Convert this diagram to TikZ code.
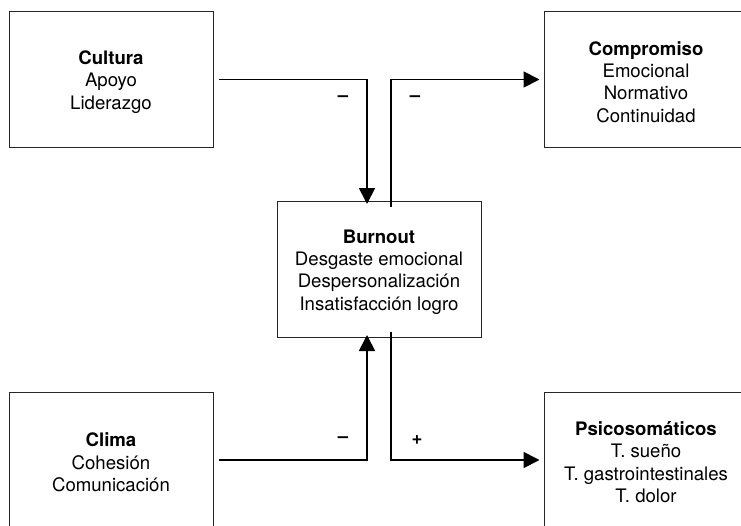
\documentclass[tikz,border=0pt]{standalone}
\usepackage{fontspec}
\setmainfont{TeX Gyre Heros}
\usetikzlibrary{arrows.meta}

\def\boxw{204pt}
\def\boxh{136pt}
% bold first line, a bit taller so the text sits lower in the box
\newcommand{\titulo}[1]{\rule{0pt}{18.5pt}\textbf{#1}}

\begin{document}
\begin{tikzpicture}[x=1pt,y=-1pt,
% Here are defined the boxes, connectors and signs
caja/.style={
rectangle, draw=black!85, line width=1pt, inner sep=0,
align=center, font=\fontsize{18.6}{22.3}\selectfont,
minimum width=\boxw, minimum height=\boxh },
conn/.style={
line width=1.8pt, -{Triangle[width=16pt,length=16pt]} },
signo/.style={
font=\fontsize{18.6}{22.3}\selectfont\bfseries },
]
\clip (0,0) rectangle (741,525);

%%%%%%%%%%%%%%%%%%%%%%%%
%%% THE BOXES
%%%%%%%%%%%%%%%%%%%%%%%%
\node[caja] (cult) at (111,79.5) {\titulo{Cultura}\\Apoyo\\Liderazgo};
\node[caja] (comp) at (646,79.5) {\titulo{Compromiso}\\Emocional\\Normativo\\Continuidad};
\node[caja] (burn) at (379,269.5) {\titulo{Burnout}\\Desgaste emocional\\Despersonalización\\Insatisfacción logro};
\node[caja] (clim) at (111,460) {\titulo{Clima}\\Cohesión\\Comunicación};
\node[caja] (psic) at (646,460) {\titulo{Psicosomáticos}\\T. sueño\\T. gastrointestinales\\T. dolor};

%%% The 4 connectors
\draw[conn] ([xshift=5pt]cult.east) -| ([xshift=-12pt,yshift=-3pt]burn.north);
\draw[conn] ([xshift=12pt,yshift=-6pt]burn.north) |- ([xshift=-4pt]comp.west);
\draw[conn] ([xshift=5pt]clim.east) -| ([xshift=-12pt,yshift=3pt]burn.south);
\draw[conn] ([xshift=12pt,yshift=6pt]burn.south) |- ([xshift=-4pt]psic.west);

%%% The signs
\node[signo] (s1) at (343,99) {--};
\node[signo] (s2) at (415,99) {--};
\node[signo] (s3) at (343,440) {--};
\node[signo] (s4) at (417,440) {+};

\end{tikzpicture}
\end{document}
